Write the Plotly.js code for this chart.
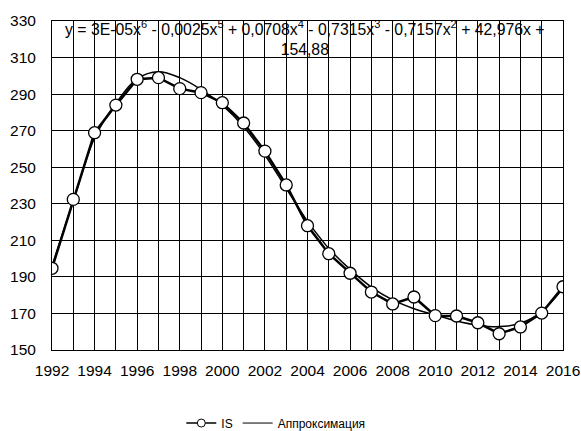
<!DOCTYPE html>
<html><head><meta charset="utf-8">
<script src="https://cdn.plot.ly/plotly-3.0.1.min.js"></script>
<style>html,body{margin:0;padding:0;background:#fff}</style>
</head><body>
<div id="chart" style="width:581px;height:431px"></div>
<script>
const years = [1992,1993,1994,1995,1996,1997,1998,1999,2000,2001,2002,2003,2004,2005,2006,2007,2008,2009,2010,2011,2012,2013,2014,2015,2016];
const isValues = [194.7,232.4,268.9,284,298.1,299,293,290.8,285.3,274.2,258.8,240.3,218,202.7,192,181.7,175.2,179,168.8,168.6,164.9,158.9,162.6,170.2,184.6];
const approxValues = [196,231.5,266,285,298.5,302.3,299,292.5,284,272.2,256.7,238.5,220.5,205.6,194.1,184.4,177.4,172.6,169.1,165.9,163.6,162.8,164.6,171,183.7];
const seriesNames = ["IS","Аппроксимация"];
const equationText = "y = 3E-05x<sup>6</sup> - 0,0025x<sup>5</sup> + 0,0708x<sup>4</sup> - 0,7315x<sup>3</sup> - 0,7157x<sup>2</sup> + 42,976x +<br>154,88";
const yTicks = [150,170,190,210,230,250,270,290,310,330];

const FONT = "Liberation Sans, Arial, sans-serif";
const traces = [
  {x: years, y: approxValues, name: seriesNames[1], type: "scatter", mode: "lines", showlegend: false,
   line: {color: "#000", width: 1.5, shape: "spline", smoothing: 1}},
  {x: years, y: isValues, name: seriesNames[0], type: "scatter", mode: "lines+markers", showlegend: false,
   line: {color: "#000", width: 2.5},
   marker: {symbol: "circle", size: 12, color: "#fff", line: {color: "#000", width: 1.3}}},
  // legend entries (no data points drawn)
  {x: [null], y: [null], name: seriesNames[0], type: "scatter", mode: "lines+markers", legendrank: 1,
   line: {color: "#000", width: 1.5},
   marker: {symbol: "circle", size: 8, color: "#fff", line: {color: "#000", width: 1}}},
  {x: [null], y: [null], name: seriesNames[1], type: "scatter", mode: "lines", legendrank: 2,
   line: {color: "#000", width: 1}}
];
const layout = {
  width: 581, height: 431,
  margin: {l: 52, r: 18, t: 21, b: 81, autoexpand: false},
  paper_bgcolor: "#fff", plot_bgcolor: "#fff",
  font: {family: FONT, color: "#000", size: 15.5},
  showlegend: true,
  legend: {orientation: "h", x: 0.438, xanchor: "center", y: -0.222, yanchor: "middle",
           font: {size: 12, family: FONT}, itemwidth: 30, itemgap: 20, traceorder: "normal"},
  xaxis: {range: [1992, 2016], tickmode: "linear", tick0: 1992, dtick: 2,
          showgrid: true, gridcolor: "#000", gridwidth: 1,
          minor: {dtick: 1, showgrid: true, gridcolor: "#000", gridwidth: 1},
          showline: true, linecolor: "#000", linewidth: 1, mirror: true,
          zeroline: false, ticks: "", ticklabelstandoff: 6,
          tickfont: {size: 15.5, family: FONT}, fixedrange: true},
  yaxis: {range: [150, 330], tickmode: "array", tickvals: yTicks,
          showgrid: true, gridcolor: "#000", gridwidth: 1,
          showline: true, linecolor: "#000", linewidth: 1, mirror: true,
          zeroline: false, ticks: "", ticklabelstandoff: 12,
          tickfont: {size: 15.5, family: FONT}, fixedrange: true},
  annotations: [{xref: "paper", yref: "paper", x: 0.495, y: 1, xanchor: "center", yanchor: "top",
                 yshift: 5, text: equationText, showarrow: false, align: "center",
                 font: {size: 15.8, family: FONT, color: "#000"}}]
};
Plotly.newPlot("chart", traces, layout, {displayModeBar: false, staticPlot: true});
</script>
</body></html>
